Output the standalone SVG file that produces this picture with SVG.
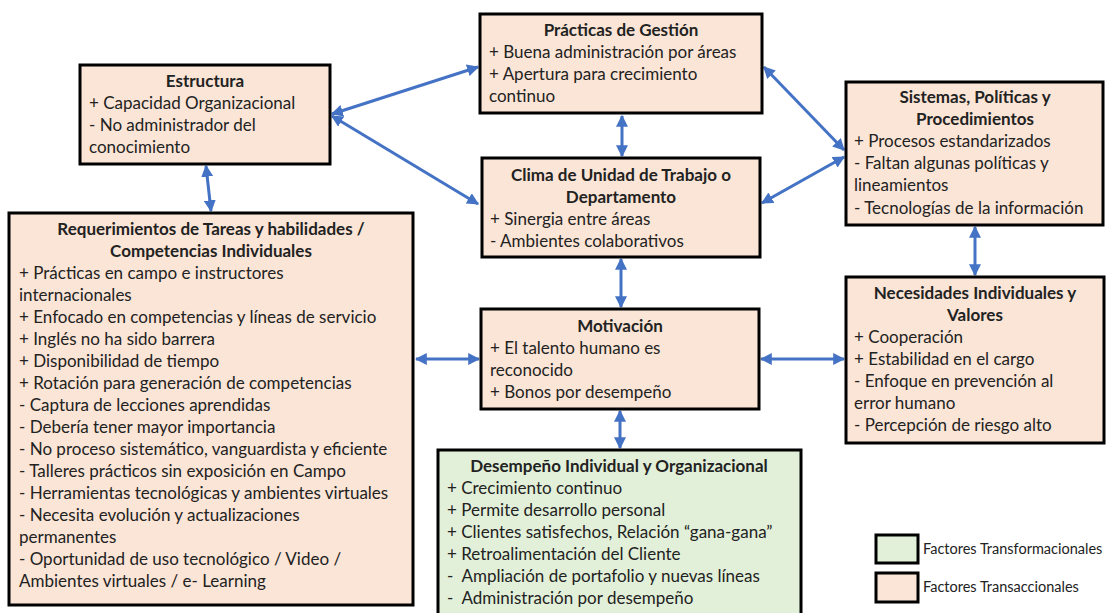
<svg xmlns="http://www.w3.org/2000/svg" width="1109" height="613" viewBox="0 0 1109 613">
  <defs>
    <marker id="ah" viewBox="0 0 10 10" refX="9" refY="5" markerWidth="4" markerHeight="4" orient="auto-start-reverse" markerUnits="strokeWidth">
      <path d="M0,0 L10,5 L0,10 Z" fill="#4472C4"/>
    </marker>
    <style>
      .box { stroke: #000; stroke-width: 3; }
      .tr { fill: #FBE5D6; }
      .tf { fill: #E2F0D9; }
      text { font-family: Lato, "Liberation Sans", sans-serif; font-size: 17px; fill: #222; }
      .t { font-weight: bold; text-anchor: middle; }
      .lg { font-size: 14.5px; }
      .conn line { stroke: #4472C4; stroke-width: 3; marker-start: url(#ah); marker-end: url(#ah); }
    </style>
  </defs>
  <rect width="1109" height="613" fill="#fff"/>

  <g class="conn" id="connectors">
    <line x1="332" y1="114" x2="478" y2="67"/>
    <line x1="332" y1="116" x2="478" y2="204"/>
    <line x1="206" y1="166" x2="211" y2="211"/>
    <line x1="622" y1="116" x2="622" y2="156"/>
    <line x1="764" y1="67" x2="844" y2="150"/>
    <line x1="762" y1="203" x2="844" y2="157"/>
    <line x1="621" y1="259" x2="621" y2="307"/>
    <line x1="975" y1="227" x2="975" y2="275"/>
    <line x1="416" y1="359" x2="479" y2="359"/>
    <line x1="761" y1="359" x2="844" y2="359"/>
    <line x1="620" y1="411" x2="620" y2="448"/>
  </g>

  <g id="estructura">
    <rect class="box tr" x="80" y="65" width="250" height="99"/>
    <text class="t" x="205" y="87">Estructura</text>
    <text x="89" y="109">+ Capacidad Organizacional</text>
    <text x="89" y="131">- No administrador del</text>
    <text x="89" y="153">conocimiento</text>
  </g>

  <g id="practicas">
    <rect class="box tr" x="480" y="14" width="282" height="99"/>
    <text class="t" x="621" y="36">Prácticas de Gestión</text>
    <text x="489" y="58">+ Buena administración por áreas</text>
    <text x="489" y="80">+ Apertura para crecimiento</text>
    <text x="489" y="102">continuo</text>
  </g>

  <g id="clima">
    <rect class="box tr" x="482" y="158" width="278" height="99"/>
    <text class="t" x="621" y="181">Clima de Unidad de Trabajo o</text>
    <text class="t" x="621" y="203">Departamento</text>
    <text x="490" y="225">+ Sinergia entre áreas</text>
    <text x="490" y="247">- Ambientes colaborativos</text>
  </g>

  <g id="sistemas">
    <rect class="box tr" x="846" y="82" width="257" height="143"/>
    <text class="t" x="975" y="103">Sistemas, Políticas y</text>
    <text class="t" x="975" y="125">Procedimientos</text>
    <text x="854" y="147">+ Procesos estandarizados</text>
    <text x="854" y="169">- Faltan algunas políticas y</text>
    <text x="854" y="191">lineamientos</text>
    <text x="854" y="214">- Tecnologías de la información</text>
  </g>

  <g id="necesidades">
    <rect class="box tr" x="846" y="277" width="258" height="166"/>
    <text class="t" x="975" y="299">Necesidades Individuales y</text>
    <text class="t" x="975" y="321">Valores</text>
    <text x="854" y="343">+ Cooperación</text>
    <text x="854" y="365">+ Estabilidad en el cargo</text>
    <text x="854" y="387">- Enfoque en prevención al</text>
    <text x="854" y="409">error humano</text>
    <text x="854" y="431">- Percepción de riesgo alto</text>
  </g>

  <g id="requerimientos">
    <rect class="box tr" x="9" y="213" width="404" height="392"/>
    <text class="t" x="211" y="235">Requerimientos de Tareas y habilidades /</text>
    <text class="t" x="211" y="257">Competencias Individuales</text>
    <text x="19" y="279">+ Prácticas en campo e instructores</text>
    <text x="19" y="301">internacionales</text>
    <text x="19" y="323">+ Enfocado en competencias y líneas de servicio</text>
    <text x="19" y="345">+ Inglés no ha sido barrera</text>
    <text x="19" y="367">+ Disponibilidad de tiempo</text>
    <text x="19" y="389">+ Rotación para generación de competencias</text>
    <text x="19" y="411">- Captura de lecciones aprendidas</text>
    <text x="19" y="433">- Debería tener mayor importancia</text>
    <text x="19" y="455">- No proceso sistemático, vanguardista y eficiente</text>
    <text x="19" y="477">- Talleres prácticos sin exposición en Campo</text>
    <text x="19" y="499">- Herramientas tecnológicas y ambientes virtuales</text>
    <text x="19" y="521">- Necesita evolución y actualizaciones</text>
    <text x="19" y="543">permanentes</text>
    <text x="19" y="565">- Oportunidad de uso tecnológico / Video /</text>
    <text x="19" y="587">Ambientes virtuales / e- Learning</text>
  </g>

  <g id="motivacion">
    <rect class="box tr" x="481" y="309" width="278" height="100"/>
    <text class="t" x="620" y="332">Motivación</text>
    <text x="490" y="354">+ El talento humano es</text>
    <text x="490" y="376">reconocido</text>
    <text x="490" y="398">+ Bonos por desempeño</text>
  </g>

  <g id="desempeno">
    <rect class="box tf" x="438" y="450" width="363" height="175"/>
    <text class="t" x="619" y="472">Desempeño Individual y Organizacional</text>
    <text x="447" y="494">+ Crecimiento continuo</text>
    <text x="447" y="516">+ Permite desarrollo personal</text>
    <text x="447" y="538">+ Clientes satisfechos, Relación “gana-gana”</text>
    <text x="447" y="560">+ Retroalimentación del Cliente</text>
    <text x="447" y="582" xml:space="preserve">-  Ampliación de portafolio y nuevas líneas</text>
    <text x="447" y="604" xml:space="preserve">-  Administración por desempeño</text>
  </g>

  <g id="legend">
    <rect class="box tf" x="876" y="535" width="42" height="28"/>
    <text class="lg" x="923" y="554">Factores Transformacionales</text>
    <rect class="box tr" x="876" y="573" width="42" height="29"/>
    <text class="lg" x="923" y="592">Factores Transaccionales</text>
  </g>
</svg>
